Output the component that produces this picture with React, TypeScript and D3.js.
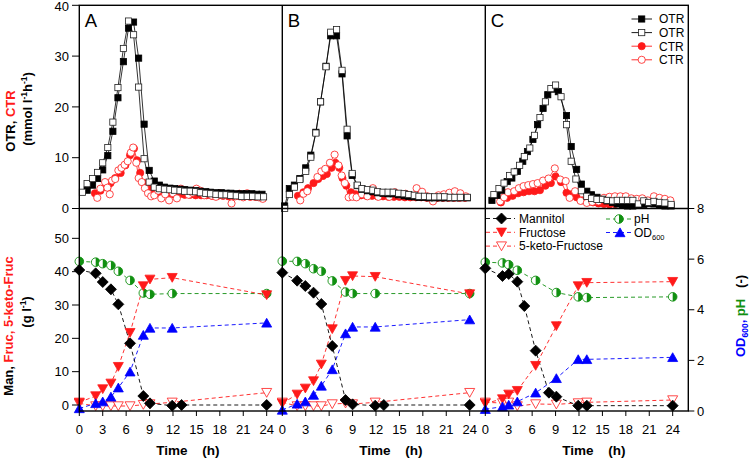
import React from 'react';
import * as d3 from 'd3';

type P = [number, number];

// ---------- axis ticks ----------
const timeTicks = [0, 3, 6, 9, 12, 15, 18, 21, 24];
const topTicks = [0, 10, 20, 30, 40];
const leftBotTicks = [0, 10, 20, 30, 40, 50];
const rightTicks = [0, 2, 4, 6, 8];
const panelNames = ['A', 'B', 'C'];

// ---------- top panels: OTR / CTR (mmol l-1 h-1) [time h, value] ----------
const otrFilledA: P[] = [[1.0,3.6],[1.7,4.6],[2.35,5.9],[3.0,7.6],[3.65,10.4],[4.3,15.2],[4.95,21.8],[5.65,28.9],[6.3,35.5],[6.95,36.7],[7.6,29.6],[8.3,16.6],[8.95,7.5],[9.6,5.4],[10.25,4.6],[10.9,4.2],[11.6,4.0],[12.2,3.9],[12.9,3.8],[13.5,3.7],[14.2,3.6],[14.9,3.5],[15.5,3.4],[16.2,3.3],[16.8,3.2],[17.5,3.1],[18.2,3.1],[18.8,3.0],[19.4,3.0],[20.1,2.9],[20.8,2.9],[21.4,2.9],[22.1,2.9],[22.7,2.8],[23.4,2.8]];
const otrOpenA: P[] = [[0.4,3.2],[1.0,4.9],[1.7,5.9],[2.35,7.1],[3.0,9.0],[3.65,12.0],[4.3,17.0],[4.95,23.8],[5.65,31.5],[6.3,36.9],[6.95,34.2],[7.6,23.9],[8.3,9.8],[8.95,5.2],[9.6,4.2],[10.25,3.9],[10.9,3.8],[11.6,3.7],[12.2,3.6],[12.9,3.5],[13.5,3.4],[14.2,3.4],[14.9,3.3],[15.5,3.1],[16.2,3.0],[16.8,2.9],[17.5,2.8],[18.2,2.7],[18.8,2.7],[19.4,2.6],[20.1,2.5],[20.8,2.4],[21.5,2.4],[22.2,2.4],[22.9,2.3],[23.6,2.3]];
const ctrFilledA: P[] = [[2.0,3.0],[2.7,3.5],[3.3,4.2],[4.0,5.0],[4.6,6.0],[5.3,7.0],[5.9,8.5],[6.5,10.5],[7.0,11.8],[7.4,9.5],[7.8,7.0],[8.3,5.0],[8.8,4.0],[9.4,3.5],[10.0,3.2],[10.7,3.0],[11.4,2.9],[12.1,2.8],[12.8,2.8],[13.5,2.7],[14.2,2.7],[14.9,2.6],[15.6,2.6],[16.3,2.6],[17.0,2.5],[17.7,2.5],[18.4,2.5],[19.1,2.4],[19.8,2.4],[20.5,2.4],[21.2,2.4],[21.9,2.3],[22.6,2.3],[23.3,2.3]];
const ctrOpenA: P[] = [[2.3,2.1],[2.7,3.9],[3.3,5.2],[3.6,4.1],[3.9,2.8],[4.2,5.5],[4.6,5.8],[5.0,7.5],[5.4,8.0],[5.8,8.6],[6.2,9.3],[6.6,11.0],[6.9,12.0],[7.3,9.0],[7.6,6.0],[8.0,5.2],[8.4,4.0],[8.8,3.0],[9.2,2.4],[9.6,2.6],[10.1,3.5],[10.5,2.0],[11.0,2.8],[11.5,1.6],[12.0,3.0],[12.5,2.0],[13.0,3.9],[13.5,3.6],[14.0,2.7],[14.5,3.1],[15.0,3.9],[15.5,3.5],[16.0,2.6],[16.5,2.9],[17.0,2.5],[17.5,2.3],[18.0,3.0],[18.5,2.6],[19.0,2.8],[19.5,1.0],[20.0,2.4],[20.5,2.9],[21.0,2.2],[21.5,3.0],[22.0,2.6],[22.5,2.3],[23.0,2.2],[23.5,1.9]];

const otrFilledB: P[] = [[0.3,0.5],[0.9,3.9],[1.55,4.6],[2.25,5.9],[3.0,8.0],[3.65,10.5],[4.3,15.0],[4.9,21.0],[5.6,28.0],[6.2,34.0],[6.95,34.0],[7.65,26.5],[8.3,14.3],[8.95,6.5],[9.6,4.5],[10.2,3.8],[10.9,3.5],[11.6,3.3],[12.2,3.1],[12.9,3.0],[13.55,2.9],[14.2,2.9],[14.9,2.7],[15.6,2.5],[16.2,2.4],[16.9,2.3],[17.5,2.2],[18.2,2.2],[18.85,2.1],[19.5,2.1],[20.2,2.1],[20.8,2.1],[21.5,2.1],[22.1,2.1],[22.8,2.1],[23.7,2.1]];
const otrOpenB: P[] = [[0.3,0.0],[0.9,2.75],[1.55,4.2],[2.25,5.7],[3.0,7.3],[3.65,10.1],[4.3,14.85],[4.9,21.0],[5.6,27.9],[6.2,34.7],[6.95,35.2],[7.65,27.2],[8.3,15.6],[8.95,6.9],[9.6,4.6],[10.2,3.9],[10.9,3.7],[11.6,3.6],[12.2,3.3],[12.9,3.2],[13.55,3.2],[14.2,3.2],[14.9,3.0],[15.6,2.9],[16.2,2.75],[16.9,2.6],[17.5,2.4],[18.2,2.4],[18.85,2.3],[19.5,2.3],[20.2,2.3],[20.8,2.3],[21.5,2.2],[22.1,2.2],[22.8,2.2],[23.7,2.2]];
const ctrFilledB: P[] = [[2.0,2.5],[2.7,3.2],[3.3,4.0],[4.0,5.0],[4.6,5.8],[5.2,6.4],[5.7,6.8],[6.3,8.0],[6.8,9.0],[7.3,8.0],[7.7,6.0],[8.2,4.5],[8.8,3.2],[9.4,2.8],[10.1,2.6],[10.8,2.5],[11.5,2.5],[12.2,2.4],[12.9,2.4],[13.6,2.3],[14.3,2.3],[15.0,2.3],[15.7,2.2],[16.4,2.2],[17.1,2.2],[17.8,2.2],[18.5,2.1],[19.2,2.1],[19.9,2.1],[20.6,2.1],[21.3,2.1],[22.0,2.1],[22.7,2.1],[23.4,2.1]];
const ctrOpenB: P[] = [[2.3,1.6],[2.7,2.9],[3.2,3.4],[4.5,6.2],[5.0,7.3],[5.5,7.8],[6.1,9.0],[6.7,10.6],[7.2,8.5],[7.6,6.5],[8.0,5.0],[8.5,2.2],[9.0,2.3],[9.5,2.2],[10.2,2.8],[10.9,2.4],[11.6,4.0],[12.3,2.3],[13.0,3.0],[13.7,2.3],[14.4,3.2],[15.1,2.6],[15.8,2.9],[16.5,2.5],[17.2,4.0],[17.9,3.3],[18.6,2.4],[19.3,1.4],[20.0,2.6],[20.7,2.8],[21.4,3.1],[22.1,3.4],[22.8,3.0],[23.5,2.4]];

const otrFilledC: P[] = [[0.85,1.6],[1.5,2.6],[2.1,3.6],[2.8,5.3],[3.4,6.0],[4.1,7.3],[4.8,9.3],[5.4,11.2],[6.1,13.6],[6.7,16.5],[7.4,19.7],[8.0,22.4],[8.7,23.5],[9.35,23.0],[10.4,18.3],[11.0,12.2],[11.7,7.7],[12.3,4.8],[13.0,3.4],[13.6,2.7],[14.3,2.2],[15.0,1.8],[15.6,1.5],[16.3,1.2],[16.9,0.9],[17.6,0.6],[18.2,0.5],[18.9,0.5],[19.6,0.6],[20.3,0.8],[20.9,1.0],[21.6,0.9],[22.3,0.7],[23.0,0.5],[23.8,0.5]];
const otrOpenC: P[] = [[1.1,2.75],[1.75,3.9],[2.4,5.0],[3.1,6.5],[3.7,7.2],[4.4,8.5],[5.0,10.2],[5.7,11.9],[6.3,14.4],[7.0,17.9],[7.7,21.0],[8.4,23.6],[9.0,24.3],[9.7,22.0],[10.4,16.5],[11.0,9.3],[11.6,5.8],[12.3,3.5],[13.0,2.4],[13.6,2.0],[14.3,1.8],[15.0,1.8],[15.6,1.6],[16.3,1.5],[16.9,1.6],[17.6,1.6],[18.2,1.6],[18.9,1.6],[19.6,0.9],[20.3,1.5],[20.9,1.2],[21.6,1.4],[22.3,1.2],[23.0,1.1],[23.8,0.8]];
const ctrFilledC: P[] = [[2.0,1.2],[2.8,2.1],[3.5,2.5],[4.2,3.0],[4.9,3.2],[5.6,3.4],[6.3,3.4],[7.0,3.6],[7.7,4.5],[8.4,5.0],[9.0,6.3],[9.7,5.2],[10.4,3.1],[11.0,2.8],[11.7,2.2],[12.4,1.6],[13.1,1.3],[13.8,1.2],[14.5,1.0],[15.2,0.9],[15.9,0.8],[16.6,0.9],[17.3,1.0],[18.0,1.1],[18.7,1.2],[19.4,1.3],[20.1,1.4],[20.8,1.4],[21.5,1.5],[22.2,1.5],[22.9,1.5],[23.6,1.4]];
const ctrOpenC: P[] = [[1.9,1.4],[2.4,2.2],[2.9,3.2],[3.7,3.4],[4.3,4.0],[4.9,4.4],[5.5,4.6],[6.1,4.8],[6.7,5.0],[7.4,5.5],[8.1,5.9],[8.9,7.9],[9.6,5.7],[10.3,5.4],[10.8,2.1],[11.5,3.4],[12.2,1.5],[13.0,1.1],[13.7,1.3],[14.5,1.4],[15.2,2.1],[15.9,2.3],[16.6,2.4],[17.3,2.4],[18.0,2.4],[18.7,2.0],[19.4,1.9],[20.1,2.0],[20.8,1.6],[21.6,2.4],[22.3,2.1],[23.0,1.9],[23.7,1.6]];

// ---------- bottom panels ----------
// g l-1 (left axis)
const mannitolA: P[] = [[0,40.5],[2.1,39.5],[3,36.9],[4.05,34.7],[5,30.2],[6.5,18.5],[8.2,2.7],[9.05,0.5],[11.9,-0.2],[13.1,0],[24,0]];
const fructoseA: P[] = [[0,0.8],[2.1,2.7],[3,4.8],[4.05,6.5],[5,11.5],[6.5,21.7],[8.2,35.7],[9.05,37.7],[11.9,38.2],[24,33.0]];
const ketoA: P[] = [[0,0.5],[2.1,-0.3],[3,-0.3],[4.05,-0.3],[5,-0.3],[6.5,-0.3],[8.2,0.1],[9.05,0.3],[11.9,0.8],[24,3.7]];
// (-) (right axis)
const odA: P[] = [[0,0.1],[2.1,0.3],[3,0.37],[4.05,0.56],[5,0.92],[6.5,1.55],[8.2,3.0],[9.05,3.28],[11.9,3.28],[24,3.48]];
const phA: P[] = [[0,5.91],[2.1,5.88],[3,5.82],[4.05,5.75],[5,5.52],[6.5,5.16],[8.2,4.66],[9.05,4.61],[11.9,4.64],[24,4.64]];

const mannitolB: P[] = [[0,39.7],[1.9,37.3],[2.95,35.7],[4,33.7],[5,30.3],[6.4,17.7],[8.1,1.5],[9,0.2],[11.9,-0.2],[13,0],[24,0]];
const fructoseB: P[] = [[0,0.5],[1.9,3.2],[2.95,5.0],[4,7.2],[5,12.2],[6.4,22.8],[8.1,37.3],[9,38.7],[11.9,38.5],[24,33.3]];
const ketoB: P[] = [[0,0.8],[1.9,-0.3],[2.95,-0.3],[4,-0.3],[5,-0.3],[6.4,0.3],[8.1,0.5],[9,0.3],[11.9,0.8],[24,3.7]];
const odB: P[] = [[0,0.04],[1.9,0.28],[2.95,0.37],[4,0.63],[5,0.99],[6.4,1.64],[8.1,3.06],[9,3.32],[11.9,3.32],[24,3.61]];
const phB: P[] = [[0,5.92],[1.9,5.91],[2.95,5.82],[4,5.62],[5,5.52],[6.4,5.14],[8.1,4.7],[9,4.64],[11.9,4.64],[24,4.64]];

const mannitolC: P[] = [[0,41.0],[2.2,38.7],[3,39.3],[4.1,37.0],[5,29.7],[6.45,16.3],[8.15,3.7],[9.1,2.5],[11.9,-0.2],[13,-0.2],[24,-0.2]];
const fructoseC: P[] = [[0,0.5],[2.2,1.8],[3,3.2],[4.1,4.3],[6.45,11.8],[9.1,23.7],[11.9,35.7],[13,36.7],[24,37.0]];
const ketoC: P[] = [[0,0.8],[2.2,0.6],[3,0.8],[4.1,-0.3],[6.45,0.3],[9.1,0.2],[11.9,0.6],[13,0.8],[24,1.5]];
const odC: P[] = [[0,0.07],[2.2,0.17],[3,0.24],[4.1,0.37],[6.45,0.72],[9.1,1.29],[11.9,2.04],[13,2.04],[24,2.12]];
const phC: P[] = [[0,5.88],[2.2,5.85],[3,5.78],[4.1,5.56],[6.45,5.16],[9.1,4.68],[11.9,4.51],[13,4.48],[24,4.51]];

const topLegend = ['OTR', 'OTR', 'CTR', 'CTR'];
const botLegend1 = ['Mannitol', 'Fructose', '5-keto-Fructose'];

// ---------- layout ----------
const W = 750, H = 464;
const panelLeft = [79.3, 282.3, 485.3];
const panelW = 203;
const topY = 5.3, midY = 208.5, botY = 411;
const RED = '#ff1a1a', BLUE = '#0000ff', GREEN = '#119011';
const FONT = 'Liberation Sans, Arial, Helvetica, sans-serif';

const diamond = 'M0,-5.5L5.5,0L0,5.5L-5.5,0Z';
const triDown = 'M-5,-4.2L5,-4.2L0,4.6Z';
const triUp = 'M-5,4.2L5,4.2L0,-4.6Z';
const RPH = 4.3;
const halfRight = `M0,${-RPH}A${RPH},${RPH} 0 0 1 0,${RPH}Z`;

function Sq({ x, y, filled }: { x: number; y: number; filled: boolean }) {
  return <rect x={x - 3.1} y={y - 3.1} width={6.2} height={6.2} fill={filled ? '#000' : '#fff'} stroke={filled ? '#000' : '#222'} strokeWidth={0.8} />;
}
function Ci({ x, y, filled }: { x: number; y: number; filled: boolean }) {
  return <circle cx={x} cy={y} r={3.6} fill={filled ? RED : '#fff'} stroke={RED} strokeWidth={0.8} />;
}
function Ph({ x, y }: { x: number; y: number }) {
  return (
    <g transform={`translate(${x},${y})`}>
      <circle r={RPH} fill="#fff" stroke={GREEN} strokeWidth={0.9} />
      <path d={halfRight} fill={GREEN} />
    </g>
  );
}
function Shape({ x, y, d, fill, stroke }: { x: number; y: number; d: string; fill: string; stroke: string }) {
  return <path transform={`translate(${x},${y})`} d={d} fill={fill} stroke={stroke} strokeWidth={0.8} />;
}

export default function App() {
  const yTop = d3.scaleLinear().domain([0, 40]).range([midY, topY]);
  const yL = d3.scaleLinear().domain([-1.8, 58.95]).range([botY, midY]);
  const yR = d3.scaleLinear().domain([0, 8]).range([botY, midY]);

  const panels = [
    { otrF: otrFilledA, otrO: otrOpenA, ctrF: ctrFilledA, ctrO: ctrOpenA, man: mannitolA, fru: fructoseA, keto: ketoA, od: odA, ph: phA },
    { otrF: otrFilledB, otrO: otrOpenB, ctrF: ctrFilledB, ctrO: ctrOpenB, man: mannitolB, fru: fructoseB, keto: ketoB, od: odB, ph: phB },
    { otrF: otrFilledC, otrO: otrOpenC, ctrF: ctrFilledC, ctrO: ctrOpenC, man: mannitolC, fru: fructoseC, keto: ketoC, od: odC, ph: phC },
  ];

  const tickFont = { fontFamily: FONT, fontSize: 13 } as const;
  const bold = { fontFamily: FONT, fontSize: 13, fontWeight: 'bold' } as const;

  return (
    <svg width={W} height={H} style={{ position: 'absolute', left: 0, top: 0, background: '#fff' }}>
      <rect width={W} height={H} fill="#fff" />
      {panels.map((p, i) => {
        const x = d3.scaleLinear().domain([0, 26]).range([panelLeft[i], panelLeft[i] + panelW]);
        const lTop = d3.line<P>().x(d => x(d[0])).y(d => yTop(d[1]));
        const lL = d3.line<P>().x(d => x(d[0])).y(d => yL(d[1]));
        const lR = d3.line<P>().x(d => x(d[0])).y(d => yR(d[1]));
        const dash = '4,3';
        return (
          <g key={i}>
            {/* top panel */}
            <path d={lTop(p.ctrF)!} fill="none" stroke={RED} strokeWidth={0.8} />
            <path d={lTop(p.ctrO)!} fill="none" stroke={RED} strokeWidth={0.8} />
            {p.ctrF.map((d, j) => <Ci key={'cf' + j} x={x(d[0])} y={yTop(d[1])} filled />)}
            {p.ctrO.map((d, j) => <Ci key={'co' + j} x={x(d[0])} y={yTop(d[1])} filled={false} />)}
            <path d={lTop(p.otrF)!} fill="none" stroke="#000" strokeWidth={0.8} />
            <path d={lTop(p.otrO)!} fill="none" stroke="#000" strokeWidth={0.8} />
            {p.otrF.map((d, j) => <Sq key={'of' + j} x={x(d[0])} y={yTop(d[1])} filled />)}
            {p.otrO.map((d, j) => <Sq key={'oo' + j} x={x(d[0])} y={yTop(d[1])} filled={false} />)}

            {/* bottom panel */}
            <path d={lR(p.ph)!} fill="none" stroke={GREEN} strokeWidth={0.9} strokeDasharray={dash} />
            <path d={lL(p.keto)!} fill="none" stroke={RED} strokeWidth={0.9} strokeDasharray={dash} />
            <path d={lL(p.fru)!} fill="none" stroke={RED} strokeWidth={0.9} strokeDasharray={dash} />
            <path d={lR(p.od)!} fill="none" stroke={BLUE} strokeWidth={0.9} strokeDasharray={dash} />
            <path d={lL(p.man)!} fill="none" stroke="#000" strokeWidth={0.9} strokeDasharray={dash} />
            {p.ph.map((d, j) => <Ph key={'ph' + j} x={x(d[0])} y={yR(d[1])} />)}
            {p.keto.map((d, j) => <Shape key={'k' + j} x={x(d[0])} y={yL(d[1])} d={triDown} fill="#fff" stroke={RED} />)}
            {p.fru.map((d, j) => <Shape key={'f' + j} x={x(d[0])} y={yL(d[1])} d={triDown} fill={RED} stroke={RED} />)}
            {p.od.map((d, j) => <Shape key={'od' + j} x={x(d[0])} y={yR(d[1])} d={triUp} fill={BLUE} stroke={BLUE} />)}
            {p.man.map((d, j) => <Shape key={'m' + j} x={x(d[0])} y={yL(d[1])} d={diamond} fill="#000" stroke="#000" />)}

            {/* x ticks */}
            {timeTicks.map(t => (
              <g key={'t' + t}>
                <line x1={x(t)} x2={x(t)} y1={botY} y2={botY + 5} stroke="#000" strokeWidth={1} />
                <text x={x(t)} y={434} textAnchor="middle" {...tickFont}>{t}</text>
              </g>
            ))}
            <text x={panelLeft[i] + 77} y={455} {...bold} fontSize={13.5}>Time</text>
            <text x={panelLeft[i] + 123} y={455} {...bold} fontSize={13.5}>(h)</text>
            <text x={panelLeft[i] + 5.5} y={27} fontFamily={FONT} fontSize={18.5}>{panelNames[i]}</text>
          </g>
        );
      })}

      {/* frame */}
      <g stroke="#000" strokeWidth={1.4} fill="none">
        <rect x={panelLeft[0]} y={topY} width={panelW * 3} height={botY - topY} />
        <line x1={panelLeft[0]} x2={panelLeft[0] + panelW * 3} y1={midY} y2={midY} />
        <line x1={panelLeft[1]} x2={panelLeft[1]} y1={topY} y2={botY} />
        <line x1={panelLeft[2]} x2={panelLeft[2]} y1={topY} y2={botY} />
      </g>

      {/* left top ticks */}
      {topTicks.map(v => (
        <g key={'lt' + v}>
          <line x1={72} x2={panelLeft[0]} y1={yTop(v)} y2={yTop(v)} stroke="#000" strokeWidth={1} />
          <text x={69} y={Math.max(yTop(v), 6.6)} dy="0.36em" textAnchor="end" {...tickFont}>{v}</text>
        </g>
      ))}
      {leftBotTicks.map(v => (
        <g key={'lb' + v}>
          <line x1={72} x2={panelLeft[0]} y1={yL(v)} y2={yL(v)} stroke="#000" strokeWidth={1} />
          <text x={69} y={yL(v)} dy="0.36em" textAnchor="end" {...tickFont}>{v}</text>
        </g>
      ))}
      {rightTicks.map(v => (
        <g key={'r' + v}>
          <line x1={panelLeft[0] + panelW * 3} x2={panelLeft[0] + panelW * 3 + 6} y1={yR(v)} y2={yR(v)} stroke="#000" strokeWidth={1} />
          <text x={697} y={yR(v)} dy="0.36em" textAnchor="start" {...tickFont}>{v}</text>
        </g>
      ))}

      {/* axis titles */}
      <text transform="translate(15,121) rotate(-90)" textAnchor="middle" {...bold}>
        <tspan fill="#000">OTR, </tspan><tspan fill={RED}>CTR</tspan>
      </text>
      <text transform="translate(32,109) rotate(-90)" textAnchor="middle" {...bold}>
        (mmol l<tspan fontSize={8.5} dy={-5}>-1</tspan><tspan dy={5}>h</tspan><tspan fontSize={8.5} dy={-5}>-1</tspan><tspan dy={5}>)</tspan>
      </text>
      <text transform="translate(13,326) rotate(-90)" textAnchor="middle" {...bold}>
        <tspan fill="#000">Man, </tspan><tspan fill={RED}>Fruc, 5-keto-Fruc</tspan>
      </text>
      <text transform="translate(31,312) rotate(-90)" textAnchor="middle" {...bold}>
        (g l<tspan fontSize={8.5} dy={-5}>-1</tspan><tspan dy={5}>)</tspan>
      </text>
      <text transform="translate(745,316) rotate(-90)" textAnchor="middle" {...bold}>
        <tspan fill={BLUE}>OD</tspan><tspan fill={BLUE} fontSize={8.5} dy={3}>600</tspan><tspan fill={BLUE} dy={-3}>, </tspan><tspan fill={GREEN}>pH</tspan><tspan fill="#000">{'\u00a0\u00a0\u00a0(-)'}</tspan>
      </text>

      {/* top legend */}
      {topLegend.map((lab, k) => {
        const yy = 19 + k * 13.6;
        const isCtr = k >= 2;
        return (
          <g key={'tl' + k}>
            <line x1={631.5} x2={652} y1={yy} y2={yy} stroke={isCtr ? RED : '#000'} strokeWidth={0.9} />
            {isCtr ? <Ci x={641.7} y={yy} filled={k === 2} /> : <Sq x={641.7} y={yy} filled={k === 0} />}
            <text x={659} y={yy} dy="0.36em" fontFamily={FONT} fontSize={12}>{lab}</text>
          </g>
        );
      })}

      {/* bottom legend */}
      {botLegend1.map((lab, k) => {
        const yy = 218.5 + k * 13.8;
        const col = k === 0 ? '#000' : RED;
        return (
          <g key={'bl' + k}>
            <line x1={486} x2={515} y1={yy} y2={yy} stroke={col} strokeWidth={0.9} strokeDasharray="4,3" />
            <Shape x={501.5} y={yy} d={k === 0 ? diamond : triDown} fill={k === 2 ? '#fff' : col} stroke={col} />
            <text x={519} y={yy} dy="0.36em" fontFamily={FONT} fontSize={12}>{lab}</text>
          </g>
        );
      })}
      <g>
        <line x1={606} x2={632} y1={219} y2={219} stroke={GREEN} strokeWidth={0.9} strokeDasharray="4,3" />
        <Ph x={619} y={219} />
        <text x={634} y={219} dy="0.36em" fontFamily={FONT} fontSize={12}>pH</text>
        <line x1={606} x2={632} y1={232.5} y2={232.5} stroke={BLUE} strokeWidth={0.9} strokeDasharray="4,3" />
        <Shape x={620} y={232.5} d={triUp} fill={BLUE} stroke={BLUE} />
        <text x={634} y={232.5} dy="0.36em" fontFamily={FONT} fontSize={12}>OD<tspan fontSize={7.5} dy={3}>600</tspan></text>
      </g>
    </svg>
  );
}
